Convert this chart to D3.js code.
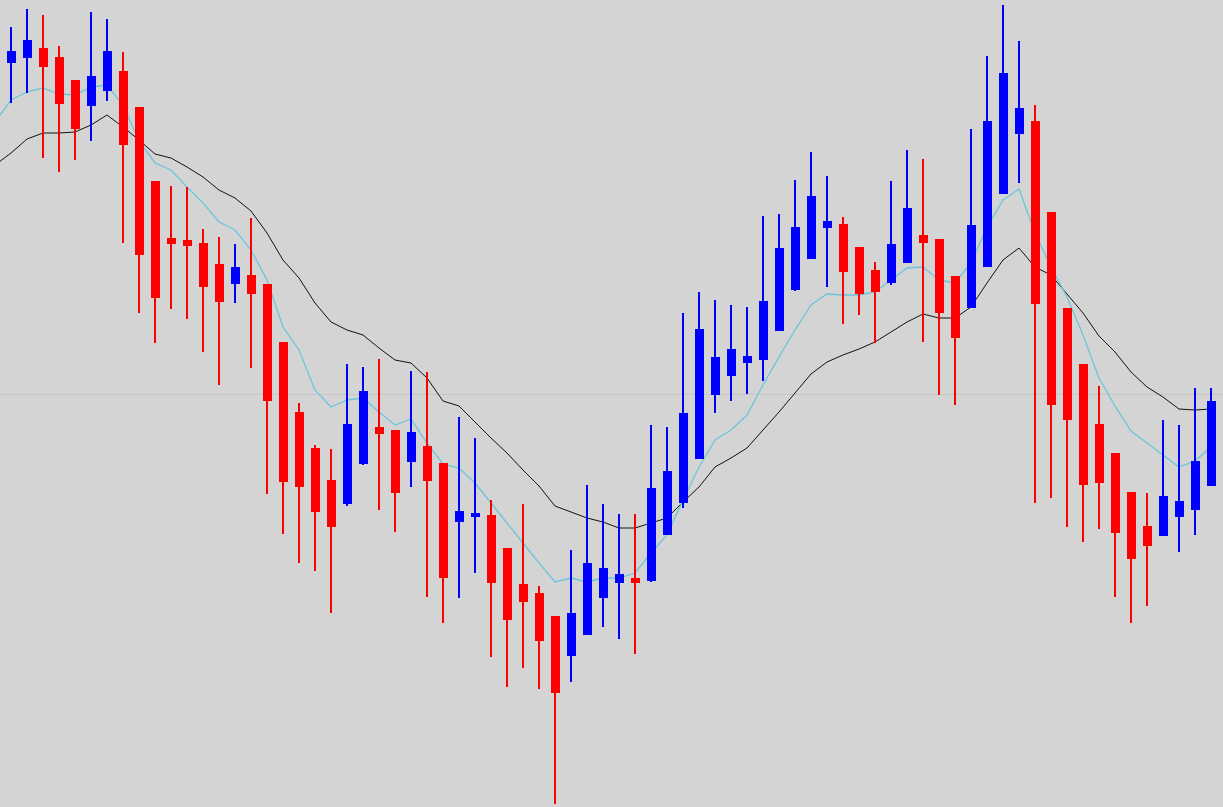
<!DOCTYPE html>
<html>
<head>
<meta charset="utf-8">
<script src="https://cdn.jsdelivr.net/npm/d3@7"></script>
<style>
html,body{margin:0;padding:0;background:#d4d4d4;overflow:hidden;}
svg{display:block;}
</style>
</head>
<body>
<svg id="chart" width="1223" height="807"></svg>
<script>
// Candle prices (points), bar index 0..75
const open  = [744,749,759,750,727,701,716,736,700,626,569,567,564,543,523,532,523,465,395,359,327,303,343,380,377,345,361,344,285,290,292,259,223,214,191,151,172,209,224,229,226,272,304,348,412,431,444,447,476,517,548,579,583,560,537,524,544,572,568,531,499,540,613,673,686,595,499,443,383,354,315,281,271,290,297,321];
const high  = [780,798,792,761,727,795,788,755,700,626,621,620,578,570,563,589,523,465,404,362,358,443,440,448,377,436,435,344,390,369,307,259,303,221,191,257,322,303,293,293,382,380,494,515,507,502,500,591,593,627,655,631,590,560,545,626,657,648,568,531,678,751,802,766,702,595,499,443,421,354,315,314,387,382,419,419];
const low   = [704,714,649,635,647,666,706,564,494,464,498,488,455,422,504,439,313,273,244,236,194,301,342,297,275,320,210,184,209,234,150,120,139,118,3,125,172,180,168,153,225,272,299,348,394,406,413,426,476,516,548,520,483,492,464,522,544,465,412,402,499,540,613,624,304,309,280,265,278,210,184,201,271,255,272,321];
const close = [756,767,740,703,678,731,756,662,552,509,563,561,520,505,540,513,406,325,320,295,280,383,416,373,314,375,326,229,296,294,224,187,205,166,114,194,244,239,233,224,319,336,394,478,450,458,451,506,559,580,611,586,535,513,515,563,599,564,494,469,582,686,734,699,503,402,387,322,324,274,248,261,311,306,346,406];

// Moving averages, bar index -1..75 (first value belongs to the bar just off-screen)
const maStartIndex = -1;
const maFast = [685,707,715,719,713,712,720,722,702,666,644,637,620,604,585,577,557,527,480,457,417,400,407,409,395,382,388,364,343,339,324,304,284,264,244,225,229,225,229,229,234,254,272,307,340,367,377,392,422,450,477,502,513,512,512,515,527,539,540,527,524,544,580,607,618,574,540,510,472,429,401,376,364,352,340,346,360];
const maSlow = [642,654,668,674,674,675,682,692,680,667,653,649,640,630,617,609,596,574,547,529,504,485,477,472,459,447,444,429,406,401,385,369,354,337,321,301,295,289,285,279,279,284,289,305,320,340,349,359,377,395,414,433,445,452,458,465,475,485,493,489,489,500,524,547,559,540,532,513,494,471,455,435,420,410,398,397,398];

// Horizontal price level
const levelPrice = 413;

const W = 1223, H = 807;
const svg = d3.select("#chart");
svg.append("rect").attr("width", W).attr("height", H).attr("fill", "#d4d4d4");

const x = d3.scaleLinear().domain([0, 75]).range([11, 1211]);
const y = d3.scaleLinear().domain([0, 807]).range([807, 0]);

// level line
svg.append("line")
  .attr("x1", 0).attr("x2", W)
  .attr("y1", Math.round(y(levelPrice)) + 0.5).attr("y2", Math.round(y(levelPrice)) + 0.5)
  .attr("stroke", "#c6c6c6").attr("stroke-width", 1);

// moving averages (drawn beneath the candles)
const line = d3.line().x(d => x(d.i)).y(d => y(d.v));
const fastPts = maFast.map((v, k) => ({i: k + maStartIndex, v}));
const slowPts = maSlow.map((v, k) => ({i: k + maStartIndex, v}));

svg.append("path").datum(slowPts).attr("d", line)
  .attr("fill", "none").attr("stroke", "#111").attr("stroke-width", 1);
svg.append("path").datum(fastPts).attr("d", line)
  .attr("fill", "none").attr("stroke", "#6cc5dc").attr("stroke-width", 1.3);

const candles = open.map((o, i) => ({i, o, h: high[i], l: low[i], c: close[i]}));
const up = "#0000ff", down = "#ff0000";

const g = svg.append("g").attr("shape-rendering", "crispEdges");
g.selectAll("rect.wick").data(candles).enter().append("rect")
  .attr("class", "wick")
  .attr("x", d => Math.round(x(d.i)) - 1)
  .attr("width", 2)
  .attr("y", d => y(d.h))
  .attr("height", d => Math.max(1, y(d.l) - y(d.h)))
  .attr("fill", d => d.c >= d.o ? up : down);

g.selectAll("rect.body").data(candles).enter().append("rect")
  .attr("class", "body")
  .attr("x", d => Math.round(x(d.i)) - 4)
  .attr("width", 9)
  .attr("y", d => y(Math.max(d.o, d.c)))
  .attr("height", d => Math.max(3, Math.abs(y(d.o) - y(d.c))))
  .attr("fill", d => d.c >= d.o ? up : down);
</script>
</body>
</html>
